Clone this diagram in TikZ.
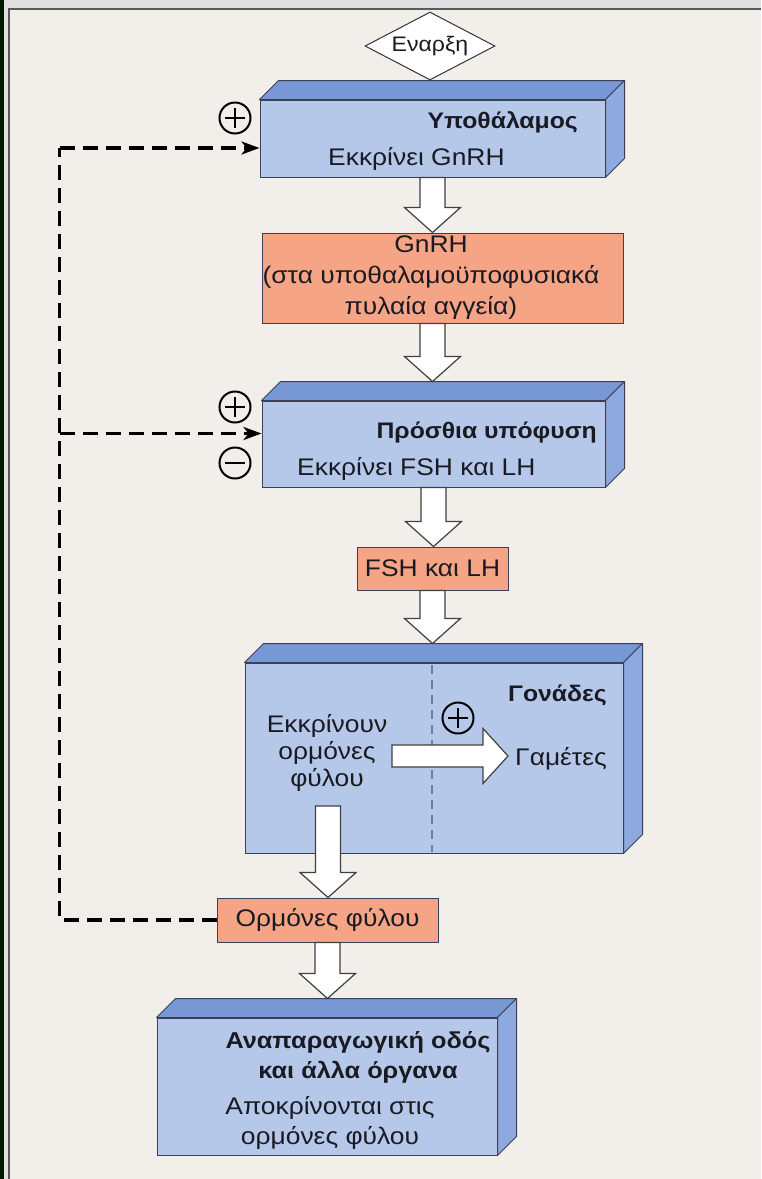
\documentclass[tikz,border=0pt]{standalone}
\usepackage{fontspec}
\setmainfont{Liberation Sans}[FakeStretch=1.1]
\usetikzlibrary{shapes.geometric,arrows.meta,calc}
\definecolor{bg}{HTML}{F2EFEA}
\definecolor{bluefront}{HTML}{B6C8EA}
\definecolor{bluetop}{HTML}{7897D5}
\definecolor{blueside}{HTML}{8DA9E0}
\definecolor{salmonc}{HTML}{F5A486}
\definecolor{edgec}{HTML}{3C3F55}
\definecolor{txt}{HTML}{1A1A22}
\definecolor{divc}{HTML}{6A7E9E}
\newcommand\fs{\fontsize{24}{29}\selectfont}
\newcommand\fsb{\fontsize{22.5}{29}\selectfont\bfseries}
\tikzset{
  front/.style={draw=edgec, fill=bluefront, line width=1pt, inner sep=0pt, rectangle},
  topface/.style={draw=edgec, fill=bluetop, line width=1pt, line join=round},
  sideface/.style={draw=edgec, fill=blueside, line width=1pt, line join=round},
  salbox/.style={draw=edgec, fill=salmonc, line width=1pt, inner sep=0pt, rectangle, align=center, text=txt, font=\fs},
  lbl/.style={text=txt, font=\fs, inner sep=0pt},
  blbl/.style={text=txt, font=\fsb, inner sep=0pt},
  fat/.style={draw=black!75, fill=white, line width=1.2pt, line join=miter},
  fb/.style={draw=black, line width=3.5pt, dash pattern=on 15pt off 8pt, -{Stealth[length=18pt,width=13pt,inset=5pt]}},
  fbline/.style={draw=black, line width=3.5pt, dash pattern=on 15pt off 8pt},
  sign/.style={circle, draw=black, line width=2pt, minimum size=31pt, inner sep=0pt},
}
\newcommand\threed[1]{%
  \draw[topface] (#1.north west) -- ++(19,-19) -- ([shift={(19,-19)}]#1.north east) -- (#1.north east) -- cycle;
  \draw[sideface] (#1.north east) -- ++(19,-19) -- ([shift={(19,-19)}]#1.south east) -- (#1.south east) -- cycle;
  \coordinate (#1-back) at ([yshift=19pt]#1.north);}
\newcommand\fatdown[2]{\draw[fat] let \p1=(#1), \p2=(#2) in
  (\x1-12.5pt,\y1) -- (\x1-12.5pt,\y2+25pt) -- (\x1-28pt,\y2+25pt) -- (\x1,\y2) -- (\x1+28pt,\y2+25pt) -- (\x1+12.5pt,\y2+25pt) -- (\x1+12.5pt,\y1) -- cycle;}
\newcommand\fatright[2]{\draw[fat] let \p1=(#1), \p2=(#2) in
  (\x1,\y1+11pt) -- (\x2-25pt,\y1+11pt) -- (\x2-25pt,\y1+27.5pt) -- (\x2,\y1) -- (\x2-25pt,\y1-27.5pt) -- (\x2-25pt,\y1-11pt) -- (\x1,\y1-11pt) -- cycle;}
\newcommand\plussign[1]{\draw[line width=2pt] ([xshift=-10pt]#1.center) -- ([xshift=10pt]#1.center) ([yshift=-10pt]#1.center) -- ([yshift=10pt]#1.center);}
\newcommand\minussign[1]{\draw[line width=2pt] ([xshift=-10pt]#1.center) -- ([xshift=10pt]#1.center);}
\begin{document}
\begin{tikzpicture}[x=1pt,y=-1pt]
\useasboundingbox (0,0) rectangle (761,1179);
% frame
\fill[bg] (0,0) rectangle (761,1179);
\fill[black!85!green!60!black] (0,0) rectangle (4,1179);
\fill[gray!25] (4,0) rectangle (761,8);
\fill[gray!25] (4,0) rectangle (8,1179);
\draw[line width=2pt, black!65] (8.5,1179) -- (8.5,8.5) -- (761,8.5);

% start diamond
\node[diamond, draw=black!80, fill=white, line width=1pt, minimum width=130pt, minimum height=68pt, inner sep=0pt, shape aspect=1.9, text=txt, font=\fontsize{21}{24}\selectfont] (start) at (430,46) {Εναρξη};

% hypothalamus
\node[front, minimum width=345pt, minimum height=77pt] (hyp) at (432.5,138.5) {};
\threed{hyp}
\node[blbl, anchor=base east] (hypt) at (578,128) {Υποθάλαμος};
\node[lbl, anchor=base west] (hyps) at (328,165) {Εκκρίνει GnRH};

% GnRH
\node[salbox, minimum width=361pt, minimum height=90pt] (gnrh) at (442.5,278) {};
\node[lbl, align=center, font=\fontsize{24}{31}\selectfont] (gnrht) at (431,278) {GnRH\\(στα υποθαλαμοϋποφυσιακά\\πυλαία αγγεία)};

% pituitary
\node[front, minimum width=343pt, minimum height=86pt] (pit) at (433.5,444) {};
\threed{pit}
\node[blbl, anchor=base east] (pitt) at (597,438) {Πρόσθια υπόφυση};
\node[lbl, anchor=base west] (pits) at (297,475) {Εκκρίνει FSH και LH};

% FSH and LH
\node[salbox, minimum width=151pt, minimum height=43pt] (fsh) at (432.5,568.5) {FSH και LH};

% gonads
\node[front, minimum width=378pt, minimum height=190pt] (gon) at (434,758) {};
\threed{gon}
\coordinate (divtop) at (432,665);
\coordinate (divbot) at (432,852);
\draw[divc, line width=1.5pt, dash pattern=on 9pt off 6pt] (divtop) -- (divbot);
\node[blbl, anchor=base east] (gont) at (607,701) {Γονάδες};
\node[lbl, align=center, font=\fontsize{24}{27}\selectfont] (gons) at (327,753) {Εκκρίνουν\\ορμόνες\\φύλου};
\node[lbl, anchor=base west] (gam) at (515,765) {Γαμέτες};
\node[sign] (p4) at (458,718) {};
\plussign{p4}

% sex hormones
\node[salbox, minimum width=221pt, minimum height=44pt] (horm) at (327.5,920) {Ορμόνες φύλου};

% target organs
\node[front, minimum width=340pt, minimum height=137pt] (org) at (327,1086.5) {};
\threed{org}
\node[blbl, align=center, font=\fontsize{23}{30}\selectfont\bfseries] (orgt) at (358,1057) {Αναπαραγωγική οδός\\και άλλα όργανα};
\node[lbl, align=center, font=\fontsize{24}{30}\selectfont] (orgs) at (330,1123) {Αποκρίνονται στις\\ορμόνες φύλου};

% fat arrows
\fatdown{hyp.south}{gnrh.north -| hyp.south}
\fatdown{gnrh.south -| hyp.south}{pit-back}
\fatdown{pit.south}{fsh.north}
\fatdown{fsh.south}{gon-back}
\coordinate (gonout) at (328,806);
\fatdown{gonout}{horm.north}
\fatdown{horm.south}{org-back}
\coordinate (gamin) at (392,756);
\coordinate (gamout) at (508,756);
\fatright{gamin}{gamout}

% feedback
\coordinate (hypin) at ([yshift=-9.5pt]hyp.west);
\coordinate (pitin) at ([yshift=10.5pt]pit.west);
\coordinate (fbtop) at ([xshift=-200pt]hypin);
\draw[fbline] (horm.west) -| (fbtop);
\draw[fb] (fbtop) -- (hypin);
\draw[fb] (fbtop |- pitin) -- (pitin);
\node[sign] (p1) at (235,118) {};
\plussign{p1}
\node[sign] (p2) at (235,407) {};
\plussign{p2}
\node[sign] (m2) at (235,463) {};
\minussign{m2}
\end{tikzpicture}
\end{document}
